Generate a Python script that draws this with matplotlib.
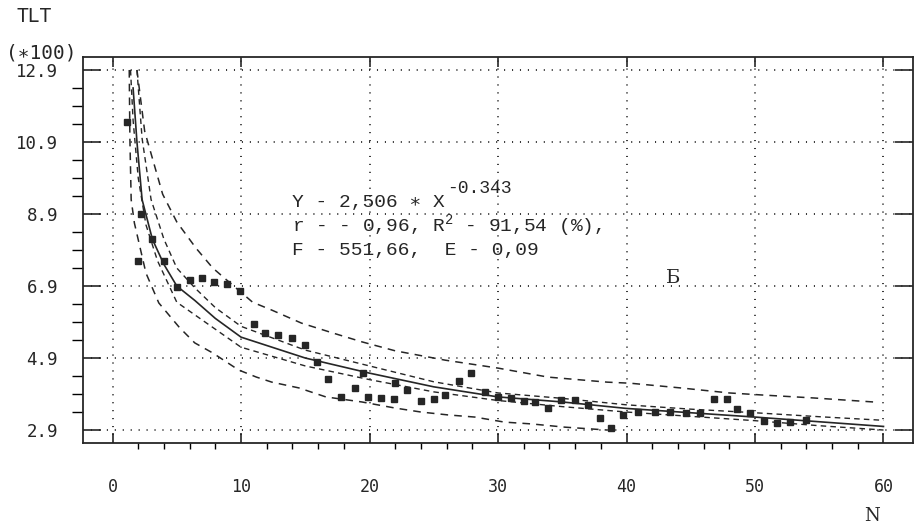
import numpy as np
import matplotlib
matplotlib.use('Agg')
import matplotlib.pyplot as plt
from matplotlib.ticker import FixedLocator

# observed points (N, TLT/100)
pts_x = [1.1, 2.0, 2.2, 3.1, 4.0, 5.0, 6.0, 7.0, 7.9, 8.9, 9.9, 11.0, 11.9, 12.9,
         14.0, 15.0, 15.9, 16.8, 17.8, 18.9, 19.5, 19.9, 20.9, 21.9, 22.0, 22.9,
         24.0, 25.0, 25.9, 27.0, 27.9, 29.0, 30.0, 31.0, 32.0, 32.9, 33.9, 34.9,
         36.0, 37.0, 37.9, 38.8, 39.7, 40.9, 42.2, 43.4, 44.6, 45.7, 46.8, 47.8,
         48.6, 49.6, 50.7, 51.7, 52.7, 54.0]
pts_y = [11.46, 7.6, 8.9, 8.2, 7.6, 6.87, 7.07, 7.12, 7.0, 6.96, 6.76, 5.84, 5.6, 5.54,
         5.46, 5.26, 4.8, 4.32, 3.82, 4.07, 4.48, 3.82, 3.8, 3.76, 4.2, 4.0,
         3.7, 3.77, 3.87, 4.26, 4.48, 3.96, 3.82, 3.8, 3.72, 3.68, 3.5, 3.73,
         3.73, 3.6, 3.23, 2.96, 3.32, 3.4, 3.4, 3.4, 3.37, 3.37, 3.76, 3.76,
         3.48, 3.37, 3.15, 3.09, 3.12, 3.18]

# fitted curve
fit_x = [1.6, 1.9, 2.3, 3.1, 4, 5, 6.4, 8, 10, 15, 20, 25, 30, 35, 40, 45, 50, 55, 60]
fit_y = [12.4, 10.9, 9.3, 8.2, 7.5, 6.9, 6.5, 6.0, 5.48, 4.9, 4.48, 4.1, 3.82, 3.68,
         3.5, 3.38, 3.26, 3.13, 3.0]

# inner band (confidence)
inup_x = [1.9, 2.3, 3, 4, 5, 6.4, 8, 10, 15, 20, 25, 30, 35, 40, 45, 50, 55, 60]
inup_y = [12.9, 11.0, 9.3, 8.2, 7.4, 6.85, 6.3, 5.78, 5.12, 4.68, 4.24, 3.93, 3.78,
          3.6, 3.48, 3.38, 3.27, 3.17]
inlo_x = [1.4, 1.6, 2, 2.6, 3.5, 5, 6.4, 8, 10, 15, 20, 25, 30, 35, 40, 45, 50, 55, 60]
inlo_y = [12.9, 11.5, 9.9, 8.6, 7.6, 6.45, 6.1, 5.7, 5.2, 4.68, 4.3, 3.96, 3.72, 3.55,
          3.4, 3.28, 3.16, 3.02, 2.9]

# outer band (prediction)
outup_x = [1.9, 2.5, 3.3, 3.9, 5, 6.5, 7.8, 9.1, 10.9, 12.4, 14.7, 17.1, 19.4, 22,
           25.9, 30, 33.9, 38.5, 40.3, 44.2, 48, 50.7, 54.6, 59.2]
outup_y = [12.9, 11.2, 10.2, 9.45, 8.68, 7.95, 7.4, 7.0, 6.45, 6.23, 5.87, 5.6, 5.35,
           5.1, 4.84, 4.62, 4.37, 4.23, 4.2, 4.07, 3.93, 3.87, 3.79, 3.68]
outlo_x = [1.3, 1.35, 1.45, 1.7, 2.6, 3.6, 5.2, 6.4, 7.8, 9.8, 11.2, 12.4, 14.5, 16.6,
           19.4, 22, 24, 26.1, 28.2, 30.5, 32.6, 35.2, 38.5]
outlo_y = [12.9, 11.0, 9.3, 8.65, 7.26, 6.43, 5.75, 5.32, 5.04, 4.57, 4.37, 4.23, 4.07,
           3.82, 3.68, 3.51, 3.4, 3.32, 3.26, 3.12, 3.07, 2.98, 2.9]

x_ticks = [0, 10, 20, 30, 40, 50, 60]
y_ticks = [2.9, 4.9, 6.9, 8.9, 10.9, 12.9]

mono = ['DejaVu Sans Mono']
eqf = ['Liberation Mono', 'DejaVu Sans Mono']
plt.rcParams['mathtext.fontset'] = 'custom'
plt.rcParams['mathtext.rm'] = 'Liberation Mono'

ink = '#262626'
fig = plt.figure(figsize=(9.18, 5.26), dpi=100)
ax = fig.add_axes([0.0904, 0.1578, 0.9042, 0.7338])

ax.plot(outup_x, outup_y, color=ink, lw=1.1, dashes=(5, 4))
ax.plot(outlo_x, outlo_y, color=ink, lw=1.1, dashes=(5, 4))
ax.plot(inup_x, inup_y, color=ink, lw=1.0, dashes=(4, 3))
ax.plot(inlo_x, inlo_y, color=ink, lw=1.0, dashes=(4, 3))
ax.plot(fit_x, fit_y, color=ink, lw=1.2)
ax.plot(pts_x, pts_y, 's', color=ink, ms=3.8, mec=ink)

ax.set_xlim(-2.3, 62.3)
ax.set_ylim(2.54, 13.26)

ax.xaxis.set_major_locator(FixedLocator(x_ticks))
ax.xaxis.set_minor_locator(FixedLocator(np.arange(0, 61, 2)))
ax.yaxis.set_major_locator(FixedLocator(y_ticks))
ax.yaxis.set_minor_locator(FixedLocator(np.arange(2.9, 12.95, 0.5)))
ax.set_xticklabels([str(v) for v in x_ticks], family=mono, fontsize=12)
ax.set_yticklabels(['%.1f' % v for v in y_ticks], family=mono, fontsize=12.5)

ax.tick_params(direction='in', top=True, right=True, colors=ink)
ax.tick_params(axis='y', which='major', length=13, width=1.2, pad=18)
ax.tick_params(axis='y', which='minor', length=8, width=1.0)
ax.tick_params(axis='x', which='major', length=7, width=1.2, pad=25)
ax.tick_params(axis='x', which='minor', length=4, width=1.0)
for s in ax.spines.values():
    s.set_linewidth(1.3)
    s.set_color(ink)

ax.grid(True, which='major', color=ink, lw=1.3, linestyle=(0, (0.6, 3.8)))

t1 = ax.text(13.95, 9.21, 'Y - 2,506 ∗ X', family=eqf, fontsize=14, va='center', color=ink)
ax.annotate('-0.343', xy=(1, 0.85), xycoords=t1, xytext=(2, 0), textcoords='offset points',
            family=eqf, fontsize=13, va='bottom', color=ink)
ax.text(13.95, 8.57, r'r - - 0,96, R$^{\mathrm{2}}$ - 91,54 (%),', family=eqf,
        fontsize=14, va='center', color=ink)
ax.text(13.95, 7.90, 'F - 551,66,  E - 0,09', family=eqf, fontsize=14, va='center', color=ink)
ax.text(43.6, 7.12, 'Б', family=['DejaVu Serif'], fontsize=14, ha='center', va='center',
        color=ink)

fig.text(34 / 918, 1 - 17 / 526, 'TLT', family=mono, fontsize=14, ha='center', va='center',
         color=ink)
fig.text(41 / 918, 1 - 53 / 526, '(∗100)', family=mono, fontsize=14, ha='center', va='center',
         color=ink)
fig.text(872 / 918, 1 - 516 / 526, 'N', family=['DejaVu Serif'], fontsize=13, ha='center',
         va='center', color=ink)

fig.savefig('out.png', dpi=100)
